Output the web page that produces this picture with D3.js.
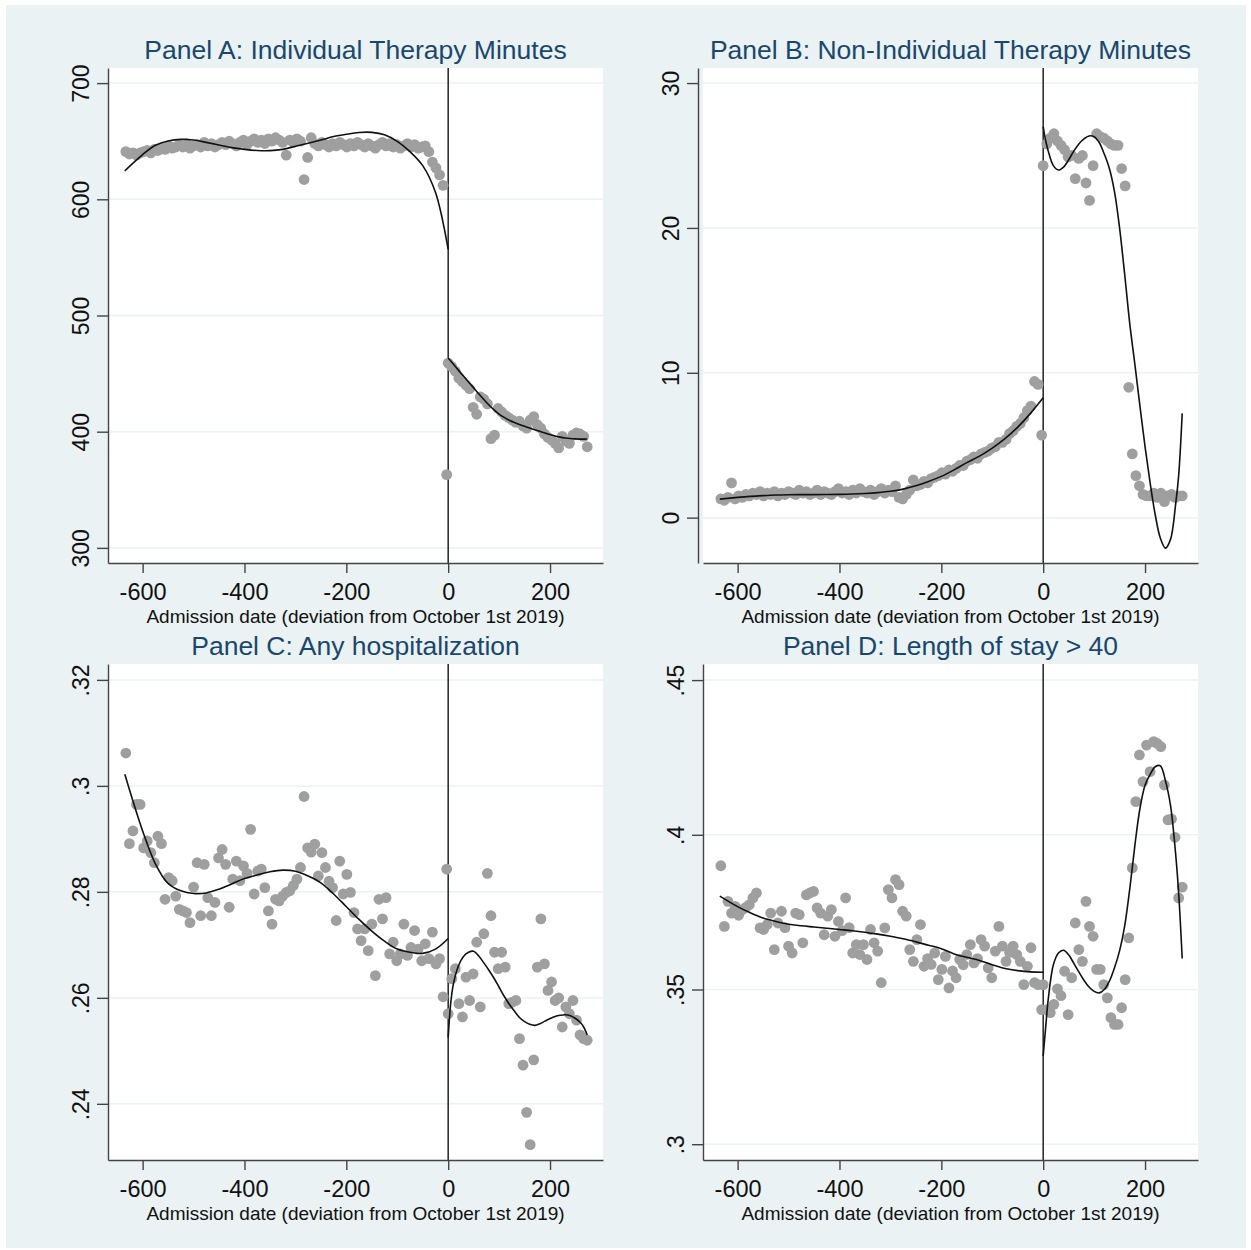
<!DOCTYPE html>
<html>
<head>
<meta charset="utf-8">
<script src="https://cdn.jsdelivr.net/npm/d3@7"></script>
<style>
  body { margin: 0; background: #fff; }
  svg text { font-family: "Liberation Sans", Arial, sans-serif; }
</style>
</head>
<body>
<div id="chart"></div>
<script>
// weekly bins, days relative to October 1st 2019
const preDays = [
  -633, -626, -619, -612, -605, -598, -591, -584, -577, -570,
  -563, -556, -549, -542, -535, -528, -521, -514, -507, -500,
  -493, -486, -479, -472, -465, -458, -451, -444, -437, -430,
  -423, -416, -409, -402, -395, -388, -381, -374, -367, -360,
  -353, -346, -339, -332, -325, -318, -311, -304, -297, -290,
  -283, -276, -269, -262, -255, -248, -241, -234, -227, -220,
  -213, -206, -199, -192, -185, -178, -171, -164, -157, -150,
  -143, -136, -129, -122, -115, -108, -101, -94, -87, -80,
  -73, -66, -59, -52, -45, -38, -31, -24, -17, -10,
  -3,
];
const postDays = [
  0, 7, 14, 21, 28, 35, 42, 49, 56, 63,
  70, 77, 84, 91, 98, 105, 112, 119, 126, 133,
  140, 147, 154, 161, 168, 175, 182, 189, 196, 203,
  210, 217, 224, 231, 238, 245, 252, 259, 266, 273,
];
// x positions of the polynomial fit lines
const fitPreDays = [-635, -600, -575, -550, -525, -500, -475, -450, -425, -400, -375, -350, -325,
  -300, -275, -250, -225, -200, -175, -150, -125, -100, -75, -50, -25, 0];
const fitPostDays = [0, 5, 10, 20, 30, 40, 50, 60, 70, 80, 90, 100, 110, 120, 130, 140, 150,
  160, 170, 180, 190, 200, 210, 220, 230, 240, 250, 260, 266, 273];

const xTicks = [-600, -400, -200, 0, 200];
const xTitle = "Admission date (deviation from October 1st 2019)";

// Panel A: individual therapy minutes
const therapyPre = [
  641, 639, 640, 638, 640, 641, 642, 640, 643, 642,
  644, 643, 646, 644, 645, 647, 645, 648, 644, 646,
  647, 645, 649, 646, 648, 645, 647, 649, 647, 650,
  648, 646, 649, 651, 647, 650, 652, 649, 651, 648,
  652, 650, 653, 651, 649, 638, 651, 649, 652, 650,
  617, 636, 653, 648, 646, 649, 647, 645, 648, 646,
  649, 647, 645, 648, 646, 649, 647, 645, 648, 646,
  644, 647, 649, 646, 648, 645, 647, 644, 646, 648,
  645, 647, 644, 645, 646, 641, 632, 627, 621, 612,
  363,
];
const therapyPost = [
  459, 456, 452, 446, 443, 440, 437, 421, 415, 430,
  428, 424, 394, 397, 420, 417, 414, 412, 410, 408,
  409, 405, 403, 410, 413, 406, 403, 398, 395, 393,
  390, 386, 396, 392, 390, 397, 399, 398, 396, 387,
];
const therapyFitPre = [624.5, 638.5, 646.5, 650.2, 651.6, 651, 649, 646.8, 644.5, 643, 642, 641.9, 643,
  645.6, 648.2, 651, 654, 656, 657.5, 657.6, 655.5, 649.8, 641, 629, 606, 557];
const therapyFitPost = [463.5, 460.8, 458.2, 453, 447.9, 442.8, 437.7, 432.6, 427.7, 423, 418.8, 415.2,
  412.3, 409.9, 407.9, 406.2, 404.6, 403.1, 401.7, 400.3, 398.9, 397.5, 396.3, 395.3, 394.6, 394.1,
  393.8, 393.6, 393.6, 393.7];
const therapyTicks = [300, 400, 500, 600, 700];

// Panel B: non-individual therapy minutes
const groupPre = [
  1.3, 1.2, 1.4, 2.4, 1.3, 1.5, 1.4, 1.6, 1.5, 1.7,
  1.6, 1.8, 1.5, 1.7, 1.6, 1.8, 1.5, 1.7, 1.6, 1.8,
  1.7, 1.6, 1.9, 1.7, 1.8, 1.6, 1.7, 1.9, 1.6, 1.8,
  1.7, 1.6, 1.8, 2.0, 1.7, 1.8, 1.6, 1.9, 1.7, 2.0,
  1.8, 1.7, 1.9, 1.6, 1.8, 2.0, 1.7, 1.9, 1.8, 2.2,
  1.4, 1.3, 1.6, 1.9, 2.6, 2.2, 2.3, 2.5, 2.4, 2.7,
  2.8, 2.9, 3.1, 3.0, 3.3, 3.2, 3.4, 3.6, 3.6, 3.9,
  4.0, 4.2, 4.1, 4.4, 4.5, 4.6, 4.8, 4.9, 5.2, 5.2,
  5.4, 5.8, 6.0, 6.3, 6.5, 6.9, 7.4, 7.7, 9.4, 9.2,
  5.7,
];
const groupPost = [
  24.3, 25.8, 26.2, 26.5, 26.0, 25.7, 25.4, 24.9, 25.0, 23.4,
  24.8, 25.0, 23.1, 21.9, 24.3, 26.5, 26.3, 26.2, 26.0, 25.8,
  25.7, 25.7, 24.1, 22.9, 9.0, 4.4, 2.9, 2.2, 1.6, 1.5,
  1.5, 1.7, 1.4, 1.7, 1.1, 1.5, 1.6, 1.4, 1.5, 1.5,
];
const groupFitPre = [1.28, 1.4, 1.47, 1.52, 1.56, 1.58, 1.59, 1.59, 1.6, 1.61, 1.63, 1.67, 1.73,
  1.82, 1.97, 2.2, 2.5, 2.85, 3.3, 3.8, 4.25, 4.8, 5.45, 6.25, 7.2, 8.27];
const groupFitPost = [27.0, 26.0, 25.3, 24.3, 24.0, 24.2, 24.7, 25.3, 25.8, 26.15, 26.35, 26.3, 25.9,
  25.1, 24.1, 22.5, 20.0, 16.8, 13.4, 10.6, 7.7, 4.9, 2.4, 0.2, -1.4, -2.1, -1.5, 0.9, 2.9, 7.2];
const groupTicks = [0, 10, 20, 30];

// Panel C: any hospitalization
const hospPre = [
  .3062, .2891, .2915, .2965, .2965, .2883, .2896, .2874, .2855, .2905,
  .2891, .2786, .2827, .2821, .2792, .2767, .2764, .2761, .2742, .2809,
  .2855, .2755, .2852, .2789, .2755, .2780, .2864, .2880, .2852, .2771,
  .2824, .2858, .2821, .2849, .2835, .2918, .2796, .2839, .2843, .2808,
  .2764, .2739, .2786, .2783, .2792, .2799, .2802, .2812, .2824, .2846,
  .2980, .2883, .2875, .2890, .2830, .2874, .2846, .2820, .2808, .2746,
  .2858, .2796, .2833, .2799, .2761, .2730, .2708, .2730, .2689, .2739,
  .2642, .2786, .2749, .2789, .2683, .2705, .2670, .2683, .2739, .2680,
  .2695, .2727, .2692, .2670, .2702, .2674, .2724, .2664, .2674, .2602,
  .2843,
];
const hospPost = [
  .2570, .2636, .2655, .2589, .2564, .2639, .2595, .2645, .2705, .2583,
  .2721, .2835, .2755, .2686, .2655, .2686, .2658, .2589, .2592, .2595,
  .2523, .2473, .2384, .2323, .2483, .2658, .2749, .2664, .2614, .2630,
  .2595, .2600, .2545, .2583, .2570, .2595, .2558, .2530, .2523, .2520,
];
const hospFitPre = [.3022, .2915, .2853, .2816, .2802, .2797, .2798, .2805, .2815, .2825, .2832, .2838,
  .2841, .2839, .2830, .2817, .2796, .2772, .2748, .2726, .2707, .2692, .2686, .2684, .2692, .2712];
const hospFitPost = [.2525, .2590, .2625, .2660, .2678, .2686, .2688, .2679, .2666, .2652, .2637, .2620,
  .2603, .2588, .2575, .2563, .2555, .2550, .2548, .2551, .2556, .2561, .2565, .2567, .2568, .2566,
  .2561, .2553, .2545, .2530];
const hospTicks = [0.24, 0.26, 0.28, 0.30, 0.32];

// Panel D: length of stay > 40
const stayPre = [
  .3900, .3704, .3785, .3747, .3769, .3740, .3758, .3765, .3774, .3796,
  .3812, .3699, .3694, .3710, .3747, .3629, .3715, .3753, .3700, .3640,
  .3618, .3747, .3742, .3651, .3806, .3812, .3817, .3764, .3747, .3677,
  .3737, .3758, .3672, .3720, .3690, .3796, .3700, .3618, .3645, .3613,
  .3645, .3597, .3694, .3651, .3624, .3522, .3699, .3823, .3796, .3855,
  .3839, .3753, .3737, .3629, .3591, .3661, .3710, .3575, .3600, .3581,
  .3618, .3532, .3565, .3607, .3505, .3560, .3538, .3597, .3580, .3613,
  .3645, .3586, .3600, .3661, .3640, .3570, .3538, .3624, .3704, .3640,
  .3591, .3620, .3640, .3613, .3591, .3516, .3575, .3635, .3522, .3516,
  .3435,
];
const stayPost = [
  .3516, .3435, .3425, .3452, .3502, .3480, .3559, .3419, .3538, .3715,
  .3629, .3591, .3785, .3704, .3672, .3565, .3565, .3516, .3473, .3409,
  .3387, .3387, .3441, .3532, .3667, .3893, .4107, .4258, .4172, .4290,
  .4204, .4301, .4295, .4285, .4161, .4048, .4051, .3992, .3796, .3831,
];
const stayFitPre = [.3802, .3768, .3748, .3731, .3720, .3711, .3706, .3702, .3698, .3694, .3690, .3685,
  .3679, .3672, .3664, .3654, .3643, .3632, .3615, .3604, .3594, .3580, .3568, .3561, .3557, .3556];
const stayFitPost = [.3285, .3380, .3470, .3580, .3618, .3627, .3612, .3585, .3557, .3530, .3508, .3494,
  .3489, .3500, .3527, .3570, .3625, .3705, .3825, .3965, .4085, .4160, .4195, .4220, .4223, .4175,
  .4095, .3940, .3812, .3600];
const stayTicks = [0.30, 0.35, 0.40, 0.45];

let draw = () => {
  d3.select("#chart").select("svg").remove();

  let dropZero = (d) => String(d).replace(/^0\./, ".");

  let panels = [
    { title: "Panel A: Individual Therapy Minutes", pre: therapyPre, post: therapyPost,
      fitPre: therapyFitPre, fitPost: therapyFitPost, ticks: therapyTicks, domain: [287, 713], fmt: String },
    { title: "Panel B: Non-Individual Therapy Minutes", pre: groupPre, post: groupPost,
      fitPre: groupFitPre, fitPost: groupFitPost, ticks: groupTicks, domain: [-3.13, 31.04], fmt: String },
    { title: "Panel C: Any hospitalization", pre: hospPre, post: hospPost,
      fitPre: hospFitPre, fitPost: hospFitPost, ticks: hospTicks, domain: [0.2294, 0.323], fmt: dropZero },
    { title: "Panel D: Length of stay > 40", pre: stayPre, post: stayPost,
      fitPre: stayFitPre, fitPost: stayFitPost, ticks: stayTicks, domain: [0.2949, 0.4552], fmt: dropZero },
  ];

  // plot region of each panel
  let boxes = [
    { x0: 108, x1: 603, y0: 68, y1: 563, axisX: 108 },
    { x0: 703, x1: 1198, y0: 68, y1: 563, axisX: 698 },
    { x0: 108, x1: 603, y0: 664, y1: 1160, axisX: 108 },
    { x0: 703, x1: 1198, y0: 664, y1: 1160, axisX: 703 },
  ];

  let svg = d3
    .select("#chart")
    .append("svg")
    .attr("width", 1251)
    .attr("height", 1250);

  svg
    .append("rect")
    .attr("x", 6)
    .attr("y", 5)
    .attr("width", 1240)
    .attr("height", 1243)
    .attr("fill", "#eaf2f3");

  panels.forEach((p, i) => {
    let b = boxes[i];
    let xScale = d3.scaleLinear().domain([-668, 304]).range([b.x0, b.x1]);
    let yScale = d3.scaleLinear().domain(p.domain).range([b.y1, b.y0]);
    let g = svg.append("g");

    g.append("rect")
      .attr("x", b.x0)
      .attr("y", b.y0)
      .attr("width", b.x1 - b.x0)
      .attr("height", b.y1 - b.y0)
      .attr("fill", "#fff");

    g.selectAll(".grid")
      .data(p.ticks)
      .enter()
      .append("line")
      .attr("x1", b.x0)
      .attr("x2", b.x1)
      .attr("y1", (d) => yScale(d))
      .attr("y2", (d) => yScale(d))
      .attr("stroke", "#eaf2f3")
      .attr("stroke-width", 1.5);

    // cutoff at October 1st
    g.append("line")
      .attr("x1", xScale(0))
      .attr("x2", xScale(0))
      .attr("y1", b.y0)
      .attr("y2", b.y1)
      .attr("stroke", "#222")
      .attr("stroke-width", 1.5);

    let points = preDays
      .map((d, k) => [d, p.pre[k]])
      .concat(postDays.map((d, k) => [d, p.post[k]]))
      .filter((d) => d[1] != null);

    g.selectAll(".dot")
      .data(points)
      .enter()
      .append("circle")
      .attr("cx", (d) => xScale(d[0]))
      .attr("cy", (d) => yScale(d[1]))
      .attr("r", 5.4)
      .attr("fill", "#9f9f9f");

    let line = d3
      .line()
      .x((d) => xScale(d[0]))
      .y((d) => yScale(d[1]))
      .curve(d3.curveCatmullRom.alpha(0.5));

    [[fitPreDays, p.fitPre], [fitPostDays, p.fitPost]].forEach(([xs, ys]) => {
      g.append("path")
        .datum(xs.map((d, k) => [d, ys[k]]))
        .attr("d", line)
        .attr("fill", "none")
        .attr("stroke", "#111")
        .attr("stroke-width", 1.6);
    });

    // y axis, labels turned on their side
    let yAxis = g
      .append("g")
      .attr("transform", `translate(${b.axisX}, 0)`)
      .call(d3.axisLeft(yScale).tickValues(p.ticks).tickSize(11).tickSizeOuter(0).tickFormat(p.fmt))
      .attr("font-size", null)
      .attr("font-family", null);
    yAxis
      .selectAll("text")
      .attr("x", 0)
      .attr("y", -19)
      .attr("dy", null)
      .attr("transform", "rotate(-90)")
      .attr("text-anchor", "middle")
      .attr("font-size", 23)
      .attr("fill", "#111");

    let xAxis = g
      .append("g")
      .attr("transform", `translate(0, ${b.y1})`)
      .call(d3.axisBottom(xScale).tickValues(xTicks).tickSize(10).tickSizeOuter(0).tickFormat(String))
      .attr("font-size", null)
      .attr("font-family", null);
    xAxis
      .selectAll("text")
      .attr("y", 37)
      .attr("dy", null)
      .attr("font-size", 23.5)
      .attr("fill", "#111");

    [yAxis, xAxis].forEach((a) => {
      a.select(".domain").attr("stroke", "#444").attr("stroke-width", 1.4);
      a.selectAll(".tick line").attr("stroke", "#444").attr("stroke-width", 1.4);
    });

    let cx = (b.x0 + b.x1) / 2;
    g.append("text")
      .attr("x", cx)
      .attr("y", b.y0 - 9)
      .attr("text-anchor", "middle")
      .attr("font-size", 26.5)
      .attr("fill", "#1a476f")
      .text(p.title);

    g.append("text")
      .attr("x", cx)
      .attr("y", b.y1 + 60)
      .attr("text-anchor", "middle")
      .attr("font-size", 19)
      .attr("fill", "#111")
      .text(xTitle);
  });
};

draw();
</script>
</body>
</html>
